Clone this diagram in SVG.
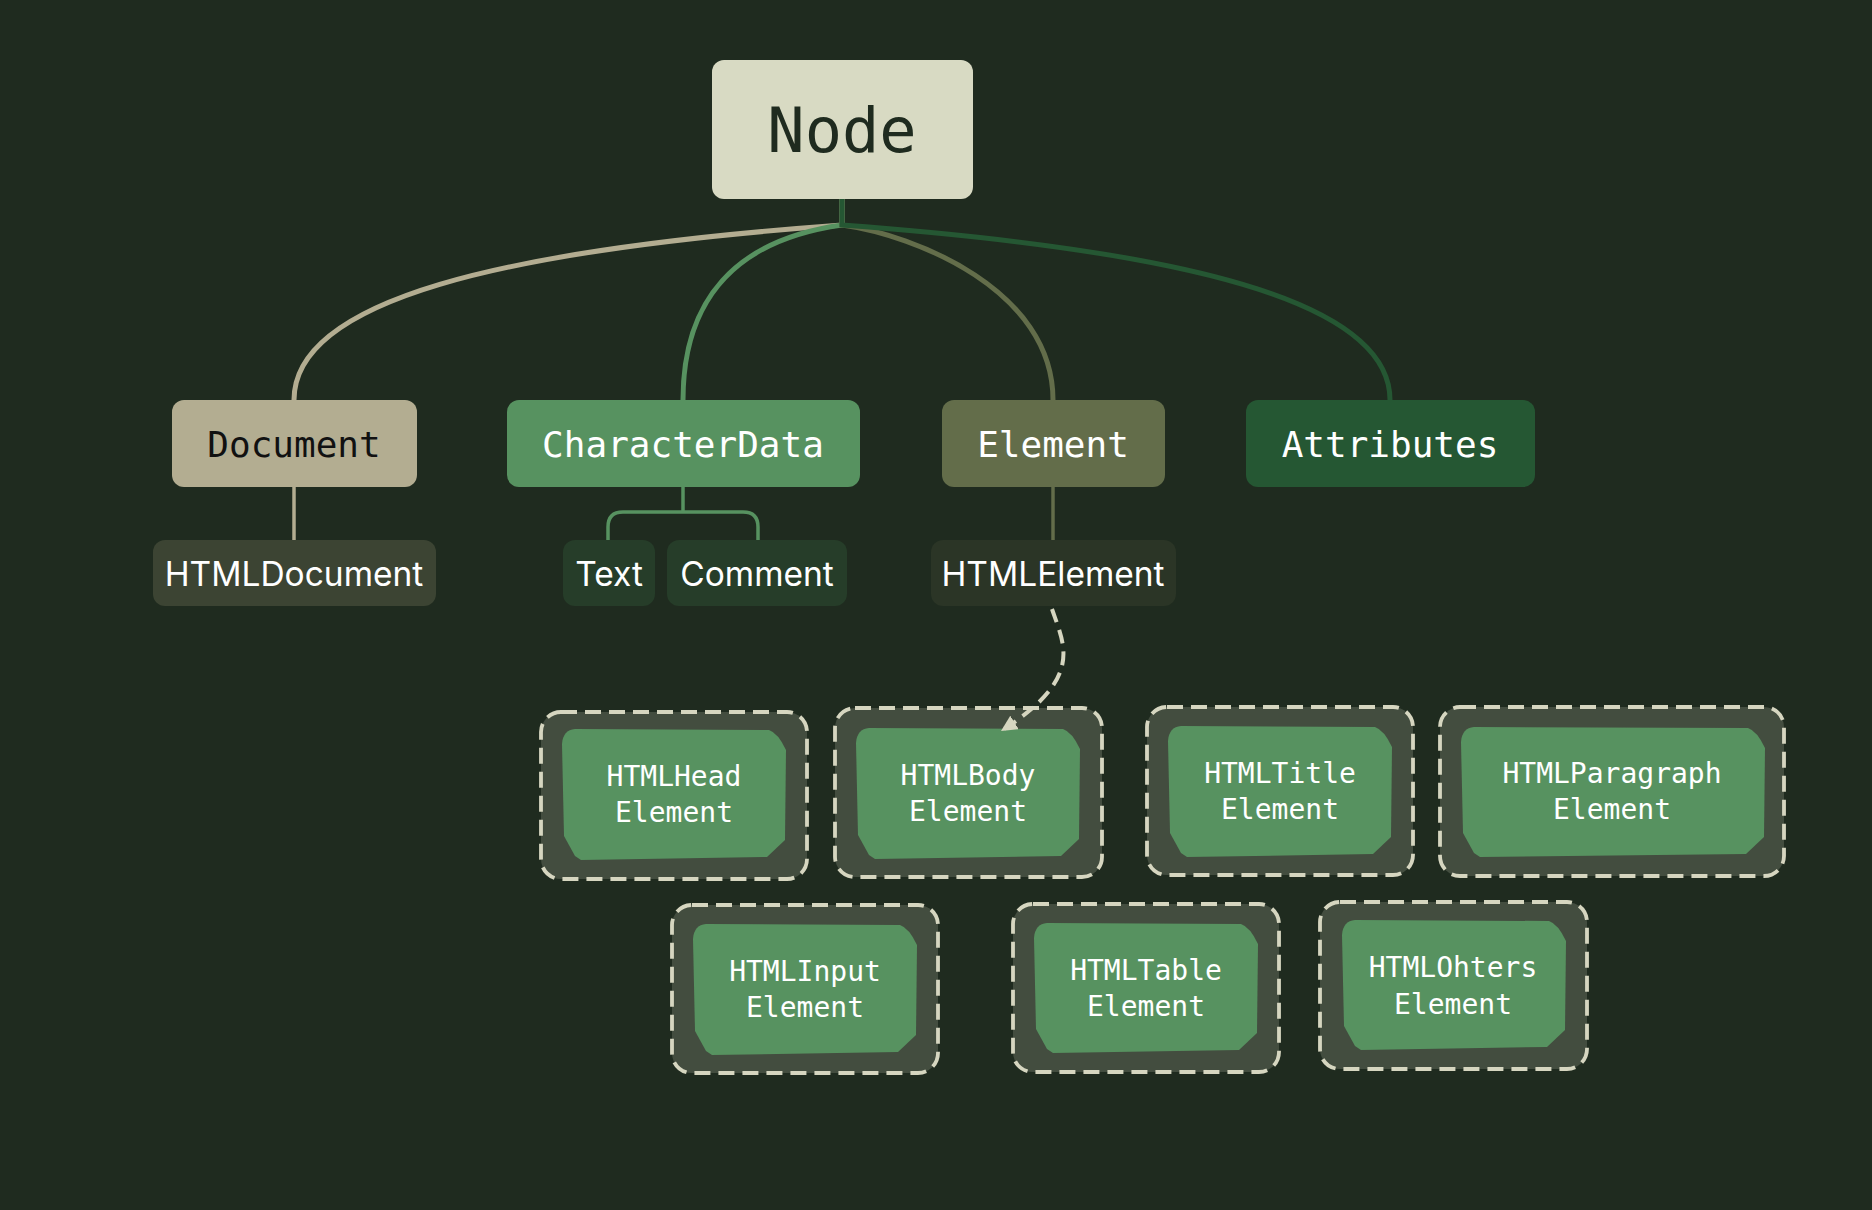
<svg xmlns="http://www.w3.org/2000/svg" width="1872" height="1210" viewBox="0 0 1872 1210">
<style>
.mono{font-family:"DejaVu Sans Mono","Liberation Mono",monospace;text-anchor:middle}
.sans{font-family:Inter,"Liberation Sans",sans-serif;text-anchor:middle;font-size:33.5px;fill:#ffffff}
.lvl1{font-size:36px}
.leaf{font-size:28px;fill:#ffffff}
.outer{fill:#434d3f;stroke:#d6d6c0;stroke-width:3.8;stroke-dasharray:16 8}
.inner{fill:#579260}
.link{fill:none;stroke-width:5}
</style>
<defs>
<marker id="arr" markerUnits="userSpaceOnUse" markerWidth="20" markerHeight="20" refX="16" refY="8" orient="auto">
<path d="M0,0 L16,8 L0,16 Z" fill="#d6d6c0"/>
</marker>
</defs>
<rect width="1872" height="1210" fill="#1f2b1f"/>
<g id="node-Node">
<rect x="712" y="60" width="261" height="139" rx="12" fill="#d8dac3"/>
<text class="mono" x="842" y="152" font-size="62" fill="#1f2b1f">Node</text>
</g>
<g id="node-Document">
<rect x="172" y="400" width="245" height="87" rx="12" fill="#b3ad91"/>
<text class="mono lvl1" x="294" y="457" fill="#111111">Document</text>
</g>
<g id="node-CharacterData">
<rect x="507" y="400" width="353" height="87" rx="12" fill="#579260"/>
<text class="mono lvl1" x="683" y="457" fill="#ffffff">CharacterData</text>
</g>
<g id="node-Element">
<rect x="942" y="400" width="223" height="87" rx="12" fill="#636d4a"/>
<text class="mono lvl1" x="1053" y="457" fill="#ffffff">Element</text>
</g>
<g id="node-Attributes">
<rect x="1246" y="400" width="289" height="87" rx="12" fill="#255733"/>
<text class="mono lvl1" x="1390" y="457" fill="#ffffff">Attributes</text>
</g>
<g id="node-HTMLDocument">
<rect x="153" y="540" width="283" height="66" rx="12" fill="#3c4433"/>
<text class="sans" x="294" y="586">HTMLDocument</text>
</g>
<g id="node-Text">
<rect x="563" y="540" width="92" height="66" rx="12" fill="#263d29"/>
<text class="sans" x="609" y="586">Text</text>
</g>
<g id="node-Comment">
<rect x="667" y="540" width="180" height="66" rx="12" fill="#263d29"/>
<text class="sans" x="757" y="586">Comment</text>
</g>
<g id="node-HTMLElement">
<rect x="931" y="540" width="245" height="66" rx="12" fill="#2b3526"/>
<text class="sans" x="1053" y="586">HTMLElement</text>
</g>
<g id="node-HTMLHeadElement">
<rect class="outer" x="541" y="712" width="266" height="167" rx="20"/>
<path class="inner" d="M575,729 L769,730 Q778,733 786,750 L785,840 L767,857 L581,860 L575,856 L564,836 L562,744 Q563,730 575,729 Z"/>
<text class="mono leaf" x="674" y="786">HTMLHead</text>
<text class="mono leaf" x="674" y="822">Element</text>
</g>
<g id="node-HTMLBodyElement">
<rect class="outer" x="835" y="708" width="267" height="169" rx="20"/>
<path class="inner" d="M869,728 L1063,729 Q1072,732 1080,749 L1079,839 L1061,856 L875,859 L869,855 L858,835 L856,743 Q857,729 869,728 Z"/>
<text class="mono leaf" x="968" y="785">HTMLBody</text>
<text class="mono leaf" x="968" y="821">Element</text>
</g>
<g id="node-HTMLTitleElement">
<rect class="outer" x="1147" y="707" width="266" height="168" rx="20"/>
<path class="inner" d="M1181,726 L1375,727 Q1384,730 1392,747 L1391,837 L1373,854 L1187,857 L1181,853 L1170,833 L1168,741 Q1169,727 1181,726 Z"/>
<text class="mono leaf" x="1280" y="783">HTMLTitle</text>
<text class="mono leaf" x="1280" y="819">Element</text>
</g>
<g id="node-HTMLParagraphElement">
<rect class="outer" x="1440" y="707" width="344" height="169" rx="20"/>
<path class="inner" d="M1474,727 L1748,728 Q1757,731 1765,748 L1764,837 L1746,854 L1480,857 L1474,853 L1463,833 L1461,742 Q1462,728 1474,727 Z"/>
<text class="mono leaf" x="1612" y="783">HTMLParagraph</text>
<text class="mono leaf" x="1612" y="819">Element</text>
</g>
<g id="node-HTMLInputElement">
<rect class="outer" x="672" y="905" width="266" height="168" rx="20"/>
<path class="inner" d="M706,924 L900,925 Q909,928 917,945 L916,1035 L898,1052 L712,1055 L706,1051 L695,1031 L693,939 Q694,925 706,924 Z"/>
<text class="mono leaf" x="805" y="981">HTMLInput</text>
<text class="mono leaf" x="805" y="1017">Element</text>
</g>
<g id="node-HTMLTableElement">
<rect class="outer" x="1013" y="904" width="266" height="168" rx="20"/>
<path class="inner" d="M1047,923 L1241,924 Q1250,927 1258,944 L1257,1033 L1239,1050 L1053,1053 L1047,1049 L1036,1029 L1034,938 Q1035,924 1047,923 Z"/>
<text class="mono leaf" x="1146" y="980">HTMLTable</text>
<text class="mono leaf" x="1146" y="1016">Element</text>
</g>
<g id="node-HTMLOhtersElement">
<rect class="outer" x="1320" y="902" width="267" height="167" rx="20"/>
<path class="inner" d="M1355,920 L1549,921 Q1558,924 1566,941 L1565,1030 L1547,1047 L1361,1050 L1355,1046 L1344,1026 L1342,935 Q1343,921 1355,920 Z"/>
<text class="mono leaf" x="1453" y="977">HTMLOhters</text>
<text class="mono leaf" x="1453" y="1014">Element</text>
</g>
<g id="connectors">
<path class="link" stroke="#b3ad91" d="M842,199 L842,225 C500,250 294,300 294,400"/>
<path class="link" stroke="#579260" d="M842,199 L842,225 C735,240 683,300 683,400"/>
<path class="link" stroke="#636d4a" d="M842,199 L842,225 C915,235 1053,290 1053,400"/>
<path class="link" stroke="#255733" d="M842,199 L842,225 C1180,250 1390,300 1390,400"/>
<path fill="none" stroke="#b3ad91" stroke-width="3.5" d="M294,487 L294,540"/>
<path fill="none" stroke="#636d4a" stroke-width="3.5" d="M1053,487 L1053,540"/>
<path fill="none" stroke="#579260" stroke-width="3.5" d="M683,487 L683,512 M608,540 L608,527 Q608,512 623,512 L743,512 Q758,512 758,527 L758,540"/>
<path fill="none" stroke="#d6d6c0" stroke-width="4" stroke-dasharray="14 8" d="M1052,609 C1064,645 1085,678 1001,731" marker-end="url(#arr)"/>
</g>
</svg>
